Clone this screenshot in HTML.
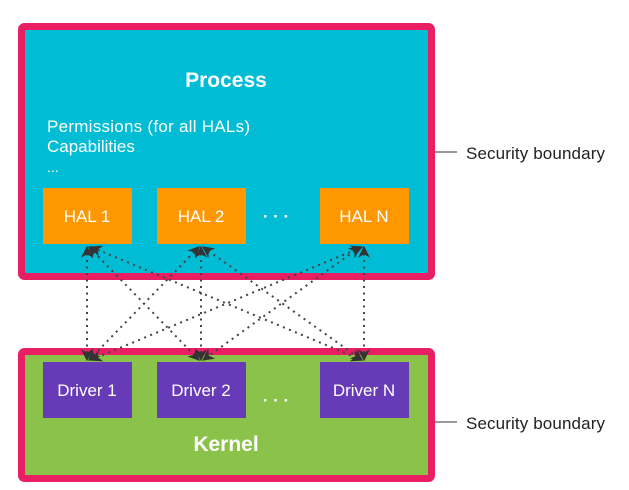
<!DOCTYPE html>
<html><head><style>body{margin:0;background:#fff}svg{display:block}</style></head><body>
<svg width="629" height="490" viewBox="0 0 629 490" xmlns="http://www.w3.org/2000/svg" font-family="Liberation Sans, sans-serif">
<defs>
<marker id="a" viewBox="0 0 10 10" refX="9" refY="5" markerWidth="6" markerHeight="6" orient="auto-start-reverse"><path d="M0,0L10,5L0,10L3,5z" fill="#333"/></marker>
</defs>
<rect x="21.5" y="26.5" width="410" height="250" rx="3" fill="#00bcd4" stroke="#e91e63" stroke-width="7"/>
<rect x="21.5" y="351.5" width="410" height="127" rx="3" fill="#8bc34a" stroke="#e91e63" stroke-width="7"/>
<text x="226" y="87" text-anchor="middle" font-size="21" font-weight="bold" fill="#fff">Process</text>
<text x="47" y="132" font-size="17" fill="#fff" textLength="203">Permissions (for all HALs)</text>
<text x="47" y="152" font-size="17" fill="#fff">Capabilities</text>
<text x="47" y="172" font-size="14" fill="#fff">...</text>
<g fill="#ff9800"><rect x="43" y="188" width="89" height="56"/><rect x="157" y="188" width="89" height="56"/><rect x="320" y="188" width="89" height="56"/></g>
<g fill="#fff" font-size="17" text-anchor="middle"><text x="87" y="222">HAL 1</text><text x="201" y="222">HAL 2</text><text x="364" y="222">HAL N</text>
<text x="276" y="222" font-weight="bold">· · ·</text></g>
<g fill="#673ab7"><rect x="43" y="362" width="89" height="56"/><rect x="157" y="362" width="89" height="56"/><rect x="320" y="362" width="89" height="56"/></g>
<g fill="#fff" font-size="17" text-anchor="middle"><text x="87" y="396">Driver 1</text><text x="201" y="396">Driver 2</text><text x="364" y="396">Driver N</text>
<text x="276" y="406" font-weight="bold">· · ·</text></g>
<text x="226" y="451" text-anchor="middle" font-size="21" font-weight="bold" fill="#fff">Kernel</text>
<g stroke="#444" stroke-width="2" stroke-dasharray="2 4.5" fill="none" marker-start="url(#a)" marker-end="url(#a)">
<line x1="87" y1="247" x2="87" y2="360"/>
<line x1="201" y1="247" x2="201" y2="360"/>
<line x1="364" y1="247" x2="364" y2="360"/>
<line x1="89" y1="247" x2="199" y2="360"/>
<line x1="91" y1="247" x2="362" y2="360"/>
<line x1="199" y1="247" x2="89" y2="360"/>
<line x1="203" y1="247" x2="362" y2="360"/>
<line x1="362" y1="247" x2="91" y2="360"/>
<line x1="360" y1="247" x2="203" y2="360"/>
</g>
<line x1="435" y1="152" x2="457" y2="152" stroke="#333" stroke-width="1"/>
<line x1="435" y1="422" x2="457" y2="422" stroke="#333" stroke-width="1"/>
<text x="466" y="159" font-size="17" fill="#222" textLength="139">Security boundary</text>
<text x="466" y="429" font-size="17" fill="#222" textLength="139">Security boundary</text>
</svg>
</body></html>
